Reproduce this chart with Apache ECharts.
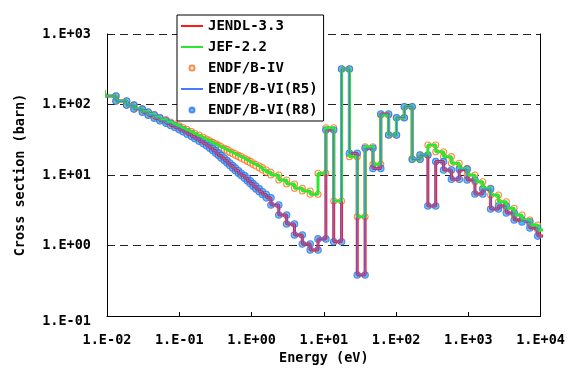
<!DOCTYPE html>
<html>
<head>
<meta charset="utf-8">
<script src="https://cdn.jsdelivr.net/npm/echarts@6/dist/echarts.min.js"></script>
<style>
html,body{margin:0;padding:0;background:#fff;}
#c{width:568px;height:372px;}
</style>
</head>
<body>
<div id="c"></div>
<script>
// Group boundaries (eV), ascending
const groupBounds = [0.009, 0.0095, 0.0133, 0.0187, 0.0236, 0.0308, 0.0372, 0.0451, 0.054, 0.0655, 0.076, 0.087, 0.1, 0.1135, 0.129, 0.148, 0.165, 0.189, 0.214, 0.239, 0.265, 0.29, 0.32, 0.35, 0.38, 0.42, 0.46, 0.5, 0.55, 0.6, 0.66, 0.72, 0.8, 0.88, 0.96, 1.05, 1.15, 1.28, 1.42, 1.6,
  1.8554, 2.3824, 3.0590, 3.9279, 5.0435, 6.4760, 8.3153, 10.677, 13.710, 17.603, 22.603, 29.023, 37.267, 47.851, 61.442, 78.893, 101.30, 130.07, 167.02, 214.45, 275.36, 353.57, 454.00, 582.95, 748.52, 961.12, 1234.1, 1584.6, 2034.7, 2612.6, 3354.6, 4307.4, 5530.8, 7101.7, 9118.8, 11709];

// Group cross sections (barn): JEF-2.2 / ENDF/B-IV
const upperXS = [161, 132, 112, 98, 87, 79, 72, 66, 61, 56.5, 53, 49.8, 46.8, 44.0, 41.3, 38.8, 36.6, 34.3, 32.3, 30.5, 29.0, 27.6, 26.3, 25.1, 24.0, 22.9, 21.9, 20.9, 20.0, 19.1, 18.2, 17.3, 16.4, 15.6, 14.8, 14.1, 13.4, 12.6, 11.8, 10.9,
  10.0, 8.49, 7.45, 6.47, 5.93, 5.32, 10.6, 46.9, 4.28, 319, 18.2, 2.56, 25.2, 14.2, 71.0, 36.9, 65.0, 93.1, 16.7, 19.2, 26.7, 21.4, 18.2, 14.7, 12.4, 10.0, 8.04, 6.47, 5.20, 4.18, 3.37, 2.71, 2.30, 1.95, 1.66];

// Group cross sections (barn): JENDL-3.3 / ENDF/B-VI
const lowerXS = [161, 132, 112, 98, 86, 77.8, 70.6, 64, 58.6, 54.0, 50.4, 47.1, 43.8, 40.9, 38.0, 35.3, 32.8, 30.2, 27.9, 25.9, 24.0, 22.2, 20.4, 18.9, 17.4, 16.0, 14.8, 13.6, 12.5, 11.5, 10.6, 9.8, 9.0, 8.25, 7.55, 6.95, 6.35, 5.8, 5.28, 4.74,
  3.75, 2.71, 2.02, 1.41, 1.05, 0.863, 1.24, 43.5, 1.13, 319, 20.3, 0.382, 23.9, 12.4, 73.3, 36.9, 65.0, 93.1, 16.7, 19.2, 3.63, 15.5, 11.8, 8.69, 12.0, 8.49, 5.37, 6.32, 3.30, 3.63, 2.89, 2.30, 2.16, 1.77, 1.36];

const seriesNames = ['JENDL-3.3', 'JEF-2.2', 'ENDF/B-IV', 'ENDF/B-VI(R5)', 'ENDF/B-VI(R8)'];

function stepPoints(vals) {
  const pts = [];
  for (let i = 0; i < vals.length; i++) {
    pts.push([groupBounds[i], vals[i]]);
    pts.push([groupBounds[i + 1], vals[i]]);
  }
  return pts;
}
const upperPts = stepPoints(upperXS);
const lowerPts = stepPoints(lowerXS);

function sciText(v) {
  const e = Math.round(Math.log10(v));
  return '1.E' + (e < 0 ? '-' : '+') + String(Math.abs(e)).padStart(2, '0');
}
function yLabel(v) {
  const t = sciText(v);
  return Math.round(Math.log10(v)) === -1 ? '{low|' + t + '}' : t;
}

const FONT = 'DejaVu Sans Mono';
const LBL = {fontFamily: FONT, fontWeight: 'bold', fontSize: 13.5, color: '#000'};
const hideSym = {opacity: 0};
const chart = echarts.init(document.getElementById('c'), null, {renderer: 'canvas'});
chart.setOption({
  animation: false,
  backgroundColor: '#fff',
  grid: {left: 107, right: 27, top: 34, bottom: 56, containLabel: false},
  legend: {
    left: 177, top: 15, orient: 'vertical',
    padding: [4, 6, 4, 3],
    itemWidth: 22, itemHeight: 5, itemGap: 7,
    backgroundColor: '#fff', borderColor: '#000', borderWidth: 1,
    textStyle: {fontFamily: FONT, fontWeight: 'bold', fontSize: 14, color: '#000'},
    data: [
      {name: seriesNames[0], itemStyle: hideSym},
      {name: seriesNames[1], itemStyle: hideSym},
      {name: seriesNames[2]},
      {name: seriesNames[3], itemStyle: hideSym},
      {name: seriesNames[4]}
    ]
  },
  xAxis: {
    type: 'log', logBase: 10, min: 0.01, max: 10000, splitNumber: 6,
    name: 'Energy (eV)', nameLocation: 'middle', nameGap: 34,
    nameTextStyle: LBL,
    axisLine: {lineStyle: {color: '#000', width: 1}},
    axisTick: {inside: true, length: 4, lineStyle: {color: '#000'}},
    minorTick: {show: false},
    splitLine: {show: false},
    axisLabel: Object.assign({formatter: sciText, margin: 17}, LBL)
  },
  yAxis: [{
    type: 'log', logBase: 10, min: 0.1, max: 1000, splitNumber: 4,
    name: 'Cross section (barn)', nameLocation: 'middle', nameGap: 80, nameRotate: 90,
    nameTextStyle: LBL,
    axisLine: {show: true, lineStyle: {color: '#000', width: 1}},
    axisTick: {show: false},
    splitLine: {show: true, lineStyle: {color: '#222', width: 1, type: [8, 5]}},
    axisLabel: Object.assign({formatter: yLabel, margin: 16,
      rich: {low: {fontFamily: FONT, fontWeight: 'bold', fontSize: 13.5, color: '#000', padding: [10, 0, 0, 0]}}}, LBL)
  }, {
    type: 'log', logBase: 10, min: 0.1, max: 1000, position: 'right',
    axisLine: {show: true, lineStyle: {color: '#000', width: 1}},
    axisTick: {show: false}, axisLabel: {show: false}, splitLine: {show: false}
  }],
  series: [
    {name: seriesNames[0], type: 'line', data: lowerPts, symbol: 'none', clip: false,
     color: '#ff1a1a', lineStyle: {color: '#ff1a1a', width: 3}},
    {name: seriesNames[1], type: 'line', data: upperPts, symbol: 'none', clip: false,
     color: '#2ee62e', lineStyle: {color: '#2ee62e', width: 3}},
    {name: seriesNames[2], type: 'scatter', data: upperPts, symbol: 'circle', symbolSize: 6,
     itemStyle: {color: '#fff', borderColor: '#ff6a13', borderWidth: 1.1}},
    {name: seriesNames[3], type: 'line', data: lowerPts, symbol: 'none', clip: false,
     color: '#4a78ff', lineStyle: {color: '#4a78ff', width: 1.2}},
    {name: seriesNames[4], type: 'scatter', data: lowerPts, symbol: 'circle', symbolSize: 6.5,
     itemStyle: {color: '#2ec4ff', borderColor: '#3a6cf0', borderWidth: 1.1}}
  ]
});
</script>
</body>
</html>
